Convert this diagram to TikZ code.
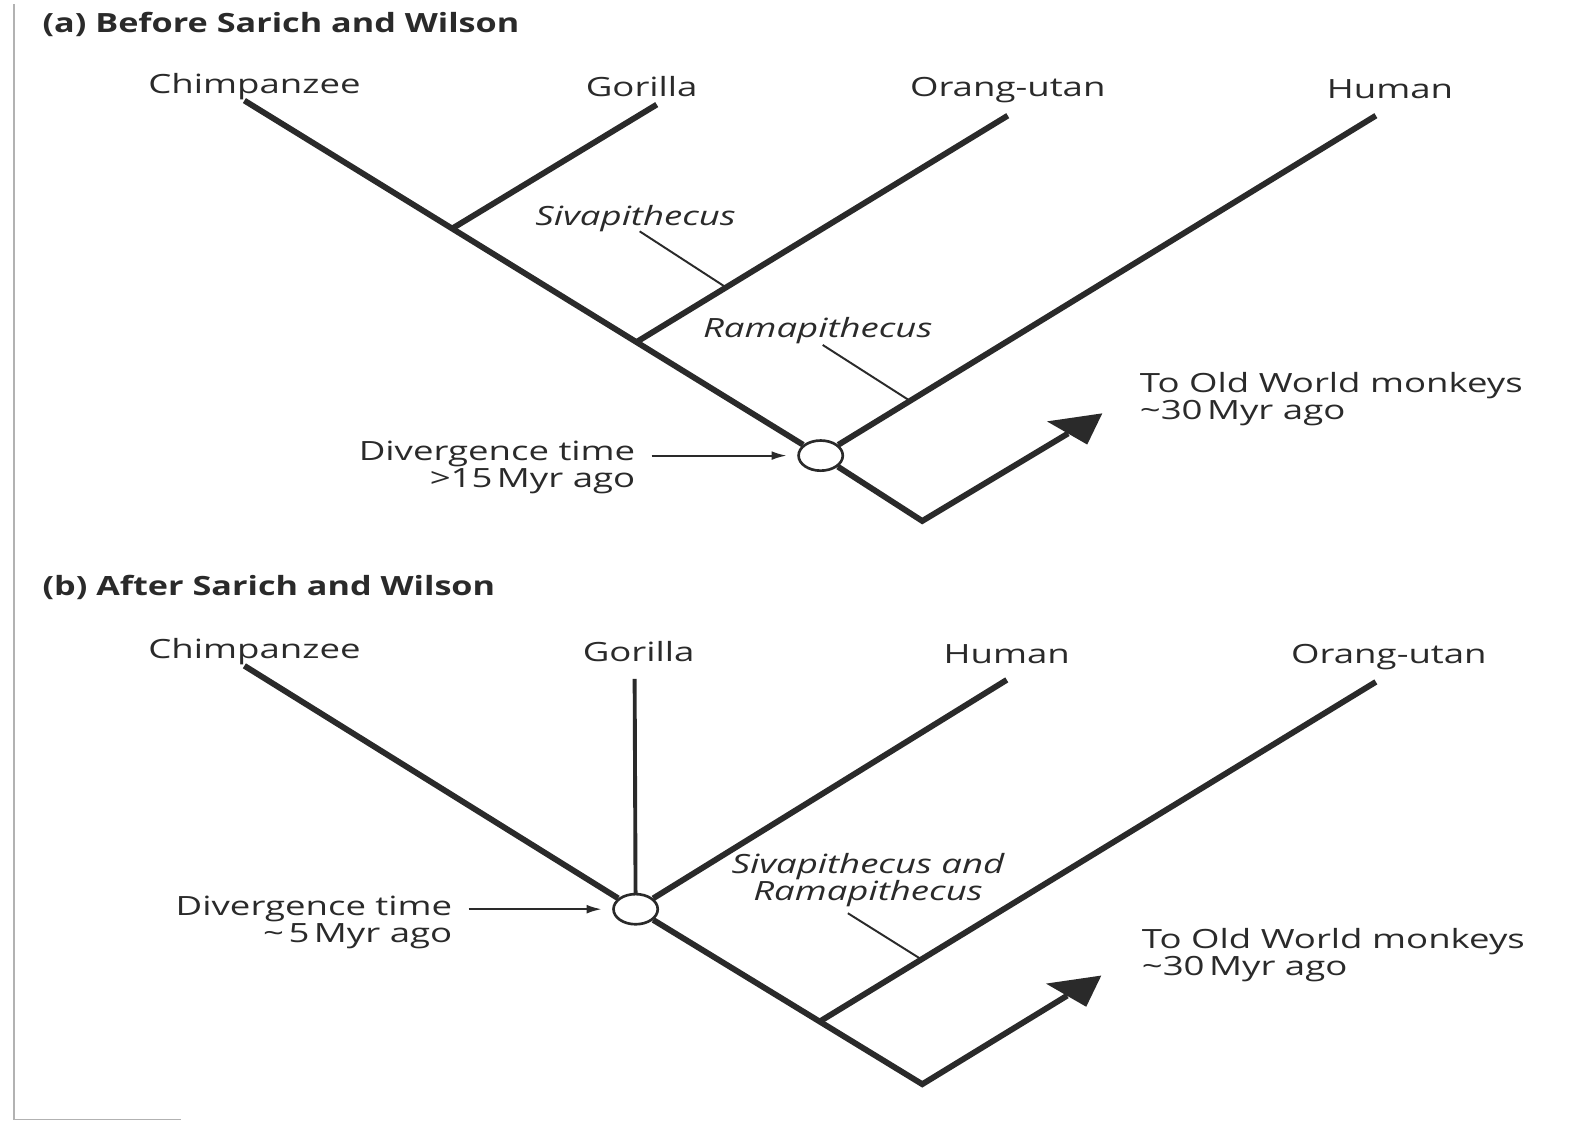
\documentclass[tikz,border=0pt]{standalone}
\usepackage{fontspec}
\setmainfont{Open Sans}[FakeStretch=1.38]
\newfontfamily\headfont{Open Sans}[FakeStretch=1.29]
\usetikzlibrary{arrows.meta,shapes.geometric,calc}
\definecolor{ink}{RGB}{42,42,42}
\tikzset{
    branch/.style={line width=3.3pt, ink},
    thin branch/.style={line width=2.2pt, ink},
    pointer/.style={line width=1.1pt, ink},
    time arrow/.style={line width=1.1pt, ink, -{Latex[length=8.5pt,width=5pt]}, shorten >=6pt},
    root node/.style={ellipse, draw=ink, line width=1.5pt, fill=white,
        minimum width=0.88cm, minimum height=0.6cm, inner sep=0pt},
    taxon/.style={font=\fontsize{15}{18}\selectfont, text=ink, inner sep=0pt},
    fossil/.style={taxon, font=\fontsize{15}{15.3}\selectfont\itshape, align=center},
    note/.style={taxon, font=\fontsize{15}{15.3}\selectfont},
    panel title/.style={font=\headfont\bfseries\fontsize{15}{18}\selectfont, text=ink,
        anchor=west, inner sep=0pt}
}
% big head of the stem arrow, drawn at its tip
\newcommand\stemhead[1]{\fill[ink] (#1) -- ++(-55,8) -- ++(40,23) -- cycle;}
\begin{document}
\begin{tikzpicture}[x=0.02cm, y=-0.02cm]
    \useasboundingbox (0,0) rectangle (1568,1114);
    % page edge
    \draw[gray!60, line width=0.8pt] (14,4) -- (14,1113) -- (180,1113);

    % (a) before
    \node[panel title] (titleA) at (42,24) {(a) Before Sarich and Wilson};
    \node[taxon] (chimpA) at (253,86) {Chimpanzee};
    \node[taxon] (gorA) at (638,86) {Gorilla};
    \node[taxon] (orangA) at (1002,90) {Orang-utan};
    \node[taxon] (humA) at (1382,89) {Human};
    \coordinate (cA) at (243,100);
    \coordinate (gA) at (653,104);
    \coordinate (oA) at (1002,115);
    \coordinate (hA) at (1368,115);
    \node[root node] (rootA) at (816,453) {};
    \coordinate (jGA) at (450,227);
    \coordinate (jOA) at (633,340);
    \coordinate (baseA) at (917,518);
    \coordinate (outA) at (1096,411);

    \draw[branch] (cA) -- (rootA);
    \draw[branch] (gA) -- (jGA);
    \draw[branch] (oA) -- (jOA);
    \draw[branch] (hA) -- (rootA);
    \draw[branch] (rootA) -- (baseA) -- ($(outA)+(-34,20)$);
    \stemhead{outA}

    \node[fossil] (sivaA) at (632,217) {Sivapithecus};
    \node[fossil] (ramaA) at (813,329) {Ramapithecus};
    \draw[pointer] (636,230) -- ($(oA)!0.759!(jOA)$);
    \draw[pointer] (818,343) -- ($(hA)!0.839!(rootA)$);

    \node[note, anchor=east, align=right] (divA) at (632,465) {Divergence time\\>15\,Myr ago};
    \draw[time arrow] ($(divA.east |- rootA)+(16,0)$) -- (rootA.west);
    \node[note, anchor=west, align=left] (oldA) at (1133,397) {To Old World monkeys\\\textasciitilde30\,Myr ago};

    % (b) after
    \node[panel title] (titleB) at (42,584) {(b) After Sarich and Wilson};
    \node[taxon] (chimpB) at (253,648) {Chimpanzee};
    \node[taxon] (gorB) at (635,648) {Gorilla};
    \node[taxon] (humB) at (1001,650) {Human};
    \node[taxon] (orangB) at (1381,653) {Orang-utan};
    \coordinate (cB) at (243,662);
    \coordinate (gB) at (631,675);
    \coordinate (hB) at (1001,676);
    \coordinate (oB) at (1368,678);
    \node[root node] (rootB) at (632,904) {};
    \coordinate (baseB) at (917,1078);
    \coordinate (outB) at (1095,970);
    \coordinate (jOB) at ($(rootB)!0.642!(baseB)$);

    \draw[branch] (cB) -- (rootB);
    \draw[thin branch] (gB) -- (rootB);
    \draw[branch] (hB) -- (rootB);
    \draw[branch] (oB) -- (jOB);
    \draw[branch] (rootB) -- (baseB) -- ($(outB)+(-34,20)$);
    \stemhead{outB}

    \node[fossil] (sivaB) at (863,875) {Sivapithecus and\\Ramapithecus};
    \draw[pointer] (843,908) -- ($(oB)!0.817!(jOB)$);

    \node[note, anchor=east, align=right] (divB) at (450,917) {Divergence time\\\textasciitilde\,5\,Myr ago};
    \draw[time arrow] ($(divB.east |- rootB)+(16,0)$) -- (rootB.west);
    \node[note, anchor=west, align=left] (oldB) at (1135,950) {To Old World monkeys\\\textasciitilde30\,Myr ago};
\end{tikzpicture}
\end{document}
